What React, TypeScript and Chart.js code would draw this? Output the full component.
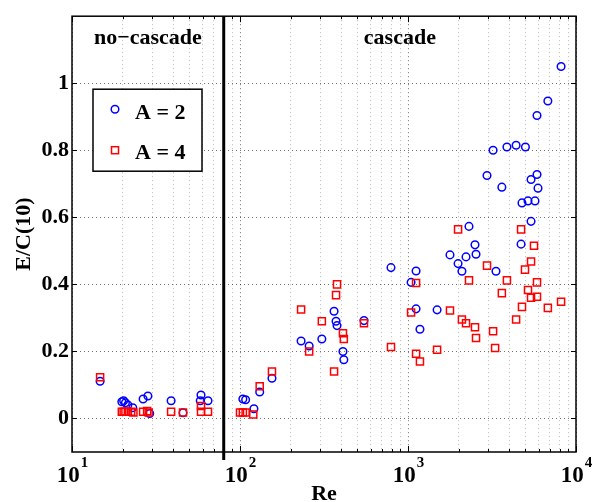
import React, { useEffect, useRef } from "react";
import { Chart, registerables } from "chart.js";
Chart.register(...registerables);

// ---- data ----
const reA2 = [14.7, 19.8, 20.3, 20.8, 21.5, 23, 26.5, 28.3, 29, 38.9, 45.8, 58.6, 58, 64.5,
  104, 108, 121, 131, 155, 231, 258, 307, 363, 373, 378, 410, 415, 547, 792, 1043, 1117, 1117,
  1178, 1490, 1778, 1986, 2094, 2215, 2307, 2505, 2540, 2953, 3210, 3340, 3620, 3880, 4400,
  4710, 4770, 5000, 5180, 5400, 5400, 5700, 5860, 5860, 5940, 6800, 8150];
const eA2 = [0.111, 0.05, 0.053, 0.047, 0.04, 0.032, 0.058, 0.067, 0.015, 0.053, 0.017, 0.07, 0.053, 0.053,
  0.058, 0.056, 0.029, 0.079, 0.12, 0.231, 0.216, 0.237, 0.32, 0.29, 0.277, 0.2, 0.175, 0.292, 0.45, 0.406, 0.44, 0.327,
  0.266, 0.324, 0.488, 0.462, 0.439, 0.482, 0.573, 0.518, 0.49, 0.725, 0.80, 0.439, 0.69, 0.81, 0.815,
  0.52, 0.643, 0.81, 0.649, 0.713, 0.588, 0.649, 0.728, 0.904, 0.687, 0.947, 1.05];

const reA4 = [14.7, 19.8, 20.3, 20.8, 21.5, 22.5, 23.2, 26.5, 28, 28.6, 38.9, 45.8, 58.6, 58.6, 64.5,
  100, 104, 108, 120, 131, 155, 231, 258, 307, 363, 373, 378, 410, 415, 547, 792, 1043, 1117, 1117,
  1178, 1490, 1778, 1986, 2094, 2215, 2307, 2505, 2540, 2953, 3210, 3300, 3620, 3880, 4400, 4710,
  4770, 4970, 5180, 5400, 5400, 5623, 5860, 5860, 6800, 8150];
const eA4 = [0.123, 0.02, 0.02, 0.02, 0.02, 0.02, 0.018, 0.02, 0.022, 0.018, 0.02, 0.018, 0.02, 0.037, 0.02,
  0.018, 0.018, 0.018, 0.012, 0.096, 0.14, 0.325, 0.2, 0.29, 0.14, 0.368, 0.4, 0.254, 0.237, 0.284, 0.213, 0.316, 0.404, 0.193,
  0.17, 0.205, 0.322, 0.564, 0.295, 0.284, 0.412, 0.272, 0.24, 0.456, 0.26, 0.21, 0.374, 0.412, 0.295, 0.564,
  0.333, 0.444, 0.383, 0.468, 0.36, 0.515, 0.406, 0.363, 0.33, 0.348];

const seriesLabels = ["A = 2", "A = 4"];
const yTickValues = [0, 0.2, 0.4, 0.6, 0.8, 1];
const yTickLabels = ["0", "0.2", "0.4", "0.6", "0.8", "1"];
const xExponents = [1, 2, 3, 4];
const xMinorMultipliers = [2, 3, 4, 5, 6, 7, 8, 9];
const regimeBoundary = 80;
const regionLabels = ["no\u2212cascade", "cascade"];
const xTitle = "Re";
const yTitle = "E/C(10)";

const FONT = '"Liberation Serif", "Times New Roman", serif';
const BLUE = "#0000ff";
const RED = "#ff0000";

const xMajorVals = xExponents.map((e) => Math.pow(10, e));
const xTickVals: number[] = [];
xExponents.forEach((e) => {
  xTickVals.push(Math.pow(10, e));
  if (e < 4) xMinorMultipliers.forEach((m) => xTickVals.push(m * Math.pow(10, e)));
});
const isMajor = (v: number) => xMajorVals.some((m) => Math.abs(m - v) < 1e-6);

const decorPlugin = {
  id: "decor",
  afterDraw(chart: any) {
    const { ctx, chartArea: a, scales } = chart;
    const x = scales.x, y = scales.y;
    const line = (x1: number, y1: number, x2: number, y2: number) => {
      ctx.beginPath(); ctx.moveTo(x1, y1); ctx.lineTo(x2, y2); ctx.stroke();
    };
    ctx.save();
    ctx.strokeStyle = "#000";
    ctx.lineWidth = 1;
    xTickVals.forEach((v) => {
      const px = Math.round(x.getPixelForValue(v)) + 0.5;
      const len = isMajor(v) ? 6 : 3;
      line(px, a.bottom, px, a.bottom - len);
      line(px, a.top, px, a.top + len);
    });
    yTickValues.forEach((v) => {
      const py = Math.round(y.getPixelForValue(v)) + 0.5;
      line(a.left, py, a.left + 5, py);
      line(a.right, py, a.right - 5, py);
    });
    ctx.lineWidth = 1.5;
    ctx.strokeRect(a.left, a.top, a.right - a.left, a.bottom - a.top);

    // regime boundary
    const bx = x.getPixelForValue(regimeBoundary);
    ctx.lineWidth = 3;
    line(bx, a.top, bx, a.bottom + 8);

    // region labels
    ctx.fillStyle = "#000";
    ctx.font = `bold 22px ${FONT}`;
    ctx.textAlign = "center";
    ctx.textBaseline = "alphabetic";
    ctx.fillText(regionLabels[0], (a.left + bx) / 2, a.top + 28);
    ctx.fillText(regionLabels[1], (bx + a.right) / 2, a.top + 28);

    // x tick labels with superscript exponents
    xExponents.forEach((e) => {
      const px = x.getPixelForValue(Math.pow(10, e));
      ctx.font = `bold 23px ${FONT}`;
      const wb = ctx.measureText("10").width;
      ctx.font = `bold 15px ${FONT}`;
      const we = ctx.measureText(String(e)).width;
      const start = px - (wb + we) / 2;
      ctx.textAlign = "left";
      ctx.font = `bold 23px ${FONT}`;
      ctx.fillText("10", start, a.bottom + 30);
      ctx.font = `bold 15px ${FONT}`;
      ctx.fillText(String(e), start + wb + 1, a.bottom + 15);
    });

    // legend
    const lx = a.left + 21, ly = a.top + 73, lw = 109, lh = 82;
    ctx.fillStyle = "#fff";
    ctx.fillRect(lx, ly, lw, lh);
    ctx.strokeStyle = "#000";
    ctx.lineWidth = 1.5;
    ctx.strokeRect(lx, ly, lw, lh);
    ctx.lineWidth = 1.5;
    ctx.strokeStyle = BLUE;
    ctx.beginPath(); ctx.arc(lx + 22, ly + 20, 3.8, 0, Math.PI * 2); ctx.stroke();
    ctx.strokeStyle = RED;
    ctx.strokeRect(lx + 22 - 3.5, ly + 61 - 3.5, 7, 7);
    ctx.fillStyle = "#000";
    ctx.font = `bold 22px ${FONT}`;
    ctx.textAlign = "left";
    ctx.fillText(seriesLabels[0], lx + 42, ly + 30);
    ctx.fillText(seriesLabels[1], lx + 42, ly + 70);
    ctx.restore();
  },
};

export default function App() {
  const ref = useRef<HTMLCanvasElement>(null);
  useEffect(() => {
    if (!ref.current) return;
    const chart = new Chart(ref.current, {
      type: "scatter",
      data: {
        datasets: [
          {
            label: seriesLabels[0],
            data: reA2.map((r, i) => ({ x: r, y: eA2[i] })),
            pointStyle: "circle",
            pointRadius: 3.8,
            pointBorderWidth: 1.5,
            borderColor: BLUE,
            backgroundColor: "rgba(0,0,0,0)",
            order: 1,
          },
          {
            label: seriesLabels[1],
            data: reA4.map((r, i) => ({ x: r, y: eA4[i] })),
            pointStyle: "rect",
            pointRadius: 5,
            pointBorderWidth: 1.5,
            borderColor: RED,
            backgroundColor: "rgba(0,0,0,0)",
            order: 0,
          },
        ],
      },
      options: {
        animation: false,
        responsive: true,
        maintainAspectRatio: false,
        devicePixelRatio: 1,
        layout: { padding: { left: 13, right: 21, top: 6, bottom: 0 } },
        plugins: { legend: { display: false }, tooltip: { enabled: false } },
        scales: {
          x: {
            type: "logarithmic",
            min: 10,
            max: 10000,
            afterBuildTicks: (s: any) => {
              s.ticks = xTickVals.map((v) => ({ value: v, major: isMajor(v) }));
            },
            afterFit: (s: any) => { s.height = 50; },
            ticks: { display: false },
            grid: {
              drawTicks: false,
              color: (c: any) => (c.tick && isMajor(c.tick.value) ? "rgba(0,0,0,0.55)" : "rgba(0,0,0,0.28)"),
              lineWidth: 1,
            },
            border: { display: false, dash: [1, 3] },
            title: {
              display: true,
              text: xTitle,
              color: "#000",
              font: { family: FONT, size: 22, weight: "bold", lineHeight: 1 },
              padding: { top: 0, bottom: -3 },
            },
          },
          y: {
            type: "linear",
            min: -0.1,
            max: 1.2,
            afterBuildTicks: (s: any) => {
              s.ticks = yTickValues.map((v) => ({ value: v }));
            },
            afterFit: (s: any) => { s.width = 59; },
            ticks: {
              color: "#000",
              padding: 3,
              font: { family: FONT, size: 22, weight: "bold" },
              callback: (v: any) => {
                const i = yTickValues.findIndex((t) => Math.abs(t - Number(v)) < 1e-9);
                return i >= 0 ? yTickLabels[i] : "";
              },
            },
            grid: { drawTicks: false, color: "rgba(0,0,0,0.55)", lineWidth: 1 },
            border: { display: false, dash: [1, 3] },
            title: {
              display: true,
              text: yTitle,
              color: "#000",
              font: { family: FONT, size: 22, weight: "bold", lineHeight: 1 },
              padding: 0,
            },
          },
        },
      },
      plugins: [decorPlugin],
    });
    return () => chart.destroy();
  }, []);
  return (
    <div style={{ position: "absolute", left: 0, top: 0, width: 597, height: 502, background: "#fff" }}>
      <canvas ref={ref} />
    </div>
  );
}
